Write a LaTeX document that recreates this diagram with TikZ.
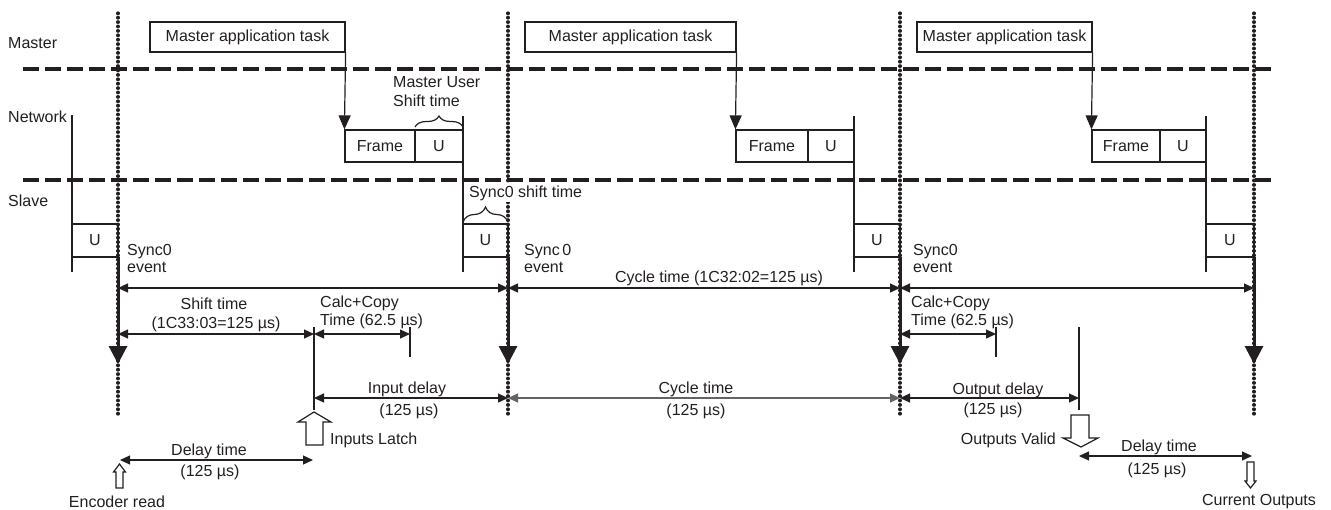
\documentclass[tikz,border=0pt]{standalone}
\usepackage{fontspec}
\setmainfont{Liberation Sans}
\usetikzlibrary{arrows.meta,decorations.pathreplacing}
\definecolor{ink}{HTML}{231F20}
\begin{document}
\begin{tikzpicture}[x=1pt,y=-1pt,
 lbl/.style={font=\fontsize{16}{19}\selectfont, text=ink, inner sep=0pt},
 lane/.style={draw=ink, line width=4pt, dash pattern=on 16pt off 6pt},
 sync/.style={draw=ink, line width=3.2pt, line cap=round, dash pattern=on 0.6pt off 3.8pt},
 thinline/.style={draw=ink, line width=1.2pt},
 box/.style={draw=ink, line width=1.2pt, inner sep=0pt, font=\fontsize{16}{19}\selectfont, text=ink},
 dim/.style={thinline, {Triangle[width=9pt,length=10pt]}-{Triangle[width=9pt,length=10pt]}},
 evt/.style={draw=ink, line width=3pt, -{Triangle[width=18pt,length=18pt]}},
 hollow/.style={draw=ink, fill=white, line width=1.2pt, line join=miter},
 brc/.style={thinline, decorate, decoration={brace, amplitude=#1}},
 taskarrow/.style={thinline, -{Triangle[width=12pt,length=14pt]}}
]
\useasboundingbox (0,0) rectangle (1331,509);

% lane separators
\draw[lane] (23,69) -- (1276,69);
\draw[lane] (23,180) -- (1276,180);

% lane labels
\node[lbl, anchor=base west] (lm) at (8,48) {Master};
\node[lbl, anchor=base west] (ln) at (8,122) {Network};
\node[lbl, anchor=base west] (ls) at (8,206) {Slave};

% sync lines
\coordinate (t0) at (118,13); \coordinate (b0) at (118,415);
\coordinate (t1) at (508,13); \coordinate (b1) at (508,415);
\coordinate (t2) at (900,13); \coordinate (b2) at (900,415);
\coordinate (t3) at (1254,13); \coordinate (b3) at (1254,415);
\draw[sync] (t0) -- (b0);
\draw[sync] (t1) -- (b1);
\draw[sync] (t2) -- (b2);
\draw[sync] (t3) -- (b3);

% master tasks
\node[box, minimum width=195pt, minimum height=30pt] (mt1) at (247.5,37) {Master application task};
\node[box, minimum width=211pt, minimum height=30pt] (mt2) at (630.5,37) {Master application task};
\node[box, minimum width=175pt, minimum height=30pt] (mt3) at (1004.5,37) {Master application task};

% network frames
\node[box, minimum width=70pt, minimum height=32pt] (fr1) at (380,146) {Frame};
\node[box, minimum width=48pt, minimum height=32pt] (nu1) at (439,146) {U};
\node[box, minimum width=72pt, minimum height=32pt] (fr2) at (772,146) {Frame};
\node[box, minimum width=46pt, minimum height=32pt] (nu2) at (831,146) {U};
\node[box, minimum width=68pt, minimum height=32pt] (fr3) at (1126,146) {Frame};
\node[box, minimum width=46pt, minimum height=32pt] (nu3) at (1183,146) {U};

\draw[taskarrow] (mt1.south east) -- (fr1.north west);
\draw[taskarrow] (mt2.south east) -- (fr2.north west);
\draw[taskarrow] (mt3.south east) -- (fr3.north west);

% slave U boxes
\node[box, minimum width=46pt, minimum height=33pt] (su0) at (95,240.5) {U};
\node[box, minimum width=45pt, minimum height=33pt] (su1) at (485.5,240.5) {U};
\node[box, minimum width=46pt, minimum height=33pt] (su2) at (877,240.5) {U};
\node[box, minimum width=48pt, minimum height=33pt] (su3) at (1230,240.5) {U};

% vertical frame-end lines
\coordinate (v0a) at (72,115);  \coordinate (v0b) at (72,272);
\coordinate (v1a) at (463,116); \coordinate (v1b) at (463,272);
\coordinate (v2a) at (854,116); \coordinate (v2b) at (854,272);
\coordinate (v3a) at (1206,116); \coordinate (v3b) at (1206,272);
\draw[thinline] (v0a) -- (v0b);
\draw[thinline] (v1a) -- (v1b);
\draw[thinline] (v2a) -- (v2b);
\draw[thinline] (v3a) -- (v3b);

% braces
\draw[brc=11pt] (415,127) -- (463,127);
\node[lbl, anchor=base west] (mus1) at (393,87) {Master User};
\node[lbl, anchor=base west] (mus2) at (393,106) {Shift time};
\draw[brc=15pt] (463,222) -- (508,222);
\node[lbl, anchor=base west, fill=white, inner ysep=2pt, inner xsep=0pt] (sst) at (469,197) {Sync0 shift time};

% sync0 events
\coordinate (e0) at (118,257); \coordinate (f0) at (118,364);
\coordinate (e1) at (508,257); \coordinate (f1) at (508,364);
\coordinate (e2) at (900,257); \coordinate (f2) at (900,364);
\coordinate (e3) at (1254,257); \coordinate (f3) at (1254,364);
\draw[evt] (e0) -- (f0);
\draw[evt] (e1) -- (f1);
\draw[evt] (e2) -- (f2);
\draw[evt] (e3) -- (f3);
\node[lbl, anchor=base west] at (127,255) {Sync0};
\node[lbl, anchor=base west] at (127,272) {event};
\node[lbl, anchor=base west] at (524,255) {Sync\,0};
\node[lbl, anchor=base west] at (524,272) {event};
\node[lbl, anchor=base west] at (913,255) {Sync0};
\node[lbl, anchor=base west] at (913,272) {event};

% cycle time row
\coordinate (c0) at (118,288); \coordinate (c1) at (508,288);
\coordinate (c2) at (900,288); \coordinate (c3) at (1254,288);
\draw[dim] (c0) -- (c1);
\draw[dim] (c1) -- (c2);
\draw[dim] (c2) -- (c3);
\node[lbl, anchor=base] at (719,282) {Cycle time (1C32:02=125 µs)};

% shift time / calc+copy row
\coordinate (s0) at (118,334); \coordinate (s1) at (314,334);
\coordinate (s2) at (410,334); \coordinate (s3) at (900,334); \coordinate (s4) at (996,334);
\draw[dim] (s0) -- (s1);
\draw[dim] (s1) -- (s2);
\draw[dim] (s3) -- (s4);
\draw[thinline] (410,327) -- (410,357);
\draw[thinline] (996,327) -- (996,357);
\node[lbl, anchor=base] at (214,309) {Shift time};
\node[lbl, anchor=base] at (216,328) {(1C33:03=125 µs)};
\node[lbl, anchor=base west] at (320,307) {Calc+Copy};
\node[lbl, anchor=base west] at (320,325) {Time (62.5 µs)};
\node[lbl, anchor=base west] at (911,307) {Calc+Copy};
\node[lbl, anchor=base west] at (911,325) {Time (62.5 µs)};

% input latch / output valid lines
\coordinate (il) at (314,327); \coordinate (ilb) at (314,410);
\coordinate (ov) at (1079,327); \coordinate (ovb) at (1079,410);
\draw[thinline] (il) -- (ilb);
\draw[thinline] (ov) -- (ovb);

% delay row
\coordinate (d0) at (314,398); \coordinate (d1) at (508,398);
\coordinate (d2) at (900,398); \coordinate (d3) at (1079,398);
\draw[dim] (d0) -- (d1);
\draw[dim, draw=ink!70] (d1) -- (d2);
\draw[dim] (d2) -- (d3);
\node[lbl, anchor=base] at (407,393) {Input delay};
\node[lbl, anchor=base] at (409,415) {(125 µs)};
\node[lbl, anchor=base] at (696,393) {Cycle time};
\node[lbl, anchor=base] at (696,415) {(125 µs)};
\node[lbl, anchor=base] at (998,394) {Output delay};
\node[lbl, anchor=base] at (993,414) {(125 µs)};

% Inputs latch hollow arrow
\draw[hollow] (306,445) -- (306,422) -- (298,422) -- (314,412) -- (331,422) -- (323,422) -- (323,445) -- cycle;
\node[lbl, anchor=base west] at (330,444) {Inputs Latch};

% Encoder read hollow arrow
\draw[hollow] (116,488) -- (116,472) -- (113.5,472) -- (119.5,464) -- (125.5,472) -- (123,472) -- (123,488) -- cycle;
\node[lbl, anchor=base] at (117,507) {Encoder read};

% delay time 1
\coordinate (dl0) at (120,460); \coordinate (dl1) at (313,460);
\draw[dim] (dl0) -- (dl1);
\node[lbl, anchor=base] at (209,455) {Delay time};
\node[lbl, anchor=base] at (210,476) {(125 µs)};

% Outputs valid hollow arrow
\draw[hollow] (1071,415) -- (1071,438) -- (1063,438) -- (1081,447) -- (1098,438) -- (1089,438) -- (1089,415) -- cycle;
\node[lbl, anchor=base east] at (1056,444) {Outputs Valid};

% delay time 2
\coordinate (dm0) at (1079,456); \coordinate (dm1) at (1252,456);
\draw[dim] (dm0) -- (dm1);
\node[lbl, anchor=base] at (1159,451) {Delay time};
\node[lbl, anchor=base] at (1157,474) {(125 µs)};

% Current outputs hollow arrow
\draw[hollow] (1247,462) -- (1247,481) -- (1245,481) -- (1250.5,488) -- (1256,481) -- (1254,481) -- (1254,462) -- cycle;
\node[lbl, anchor=base] at (1259,505) {Current Outputs};
\end{tikzpicture}
\end{document}
